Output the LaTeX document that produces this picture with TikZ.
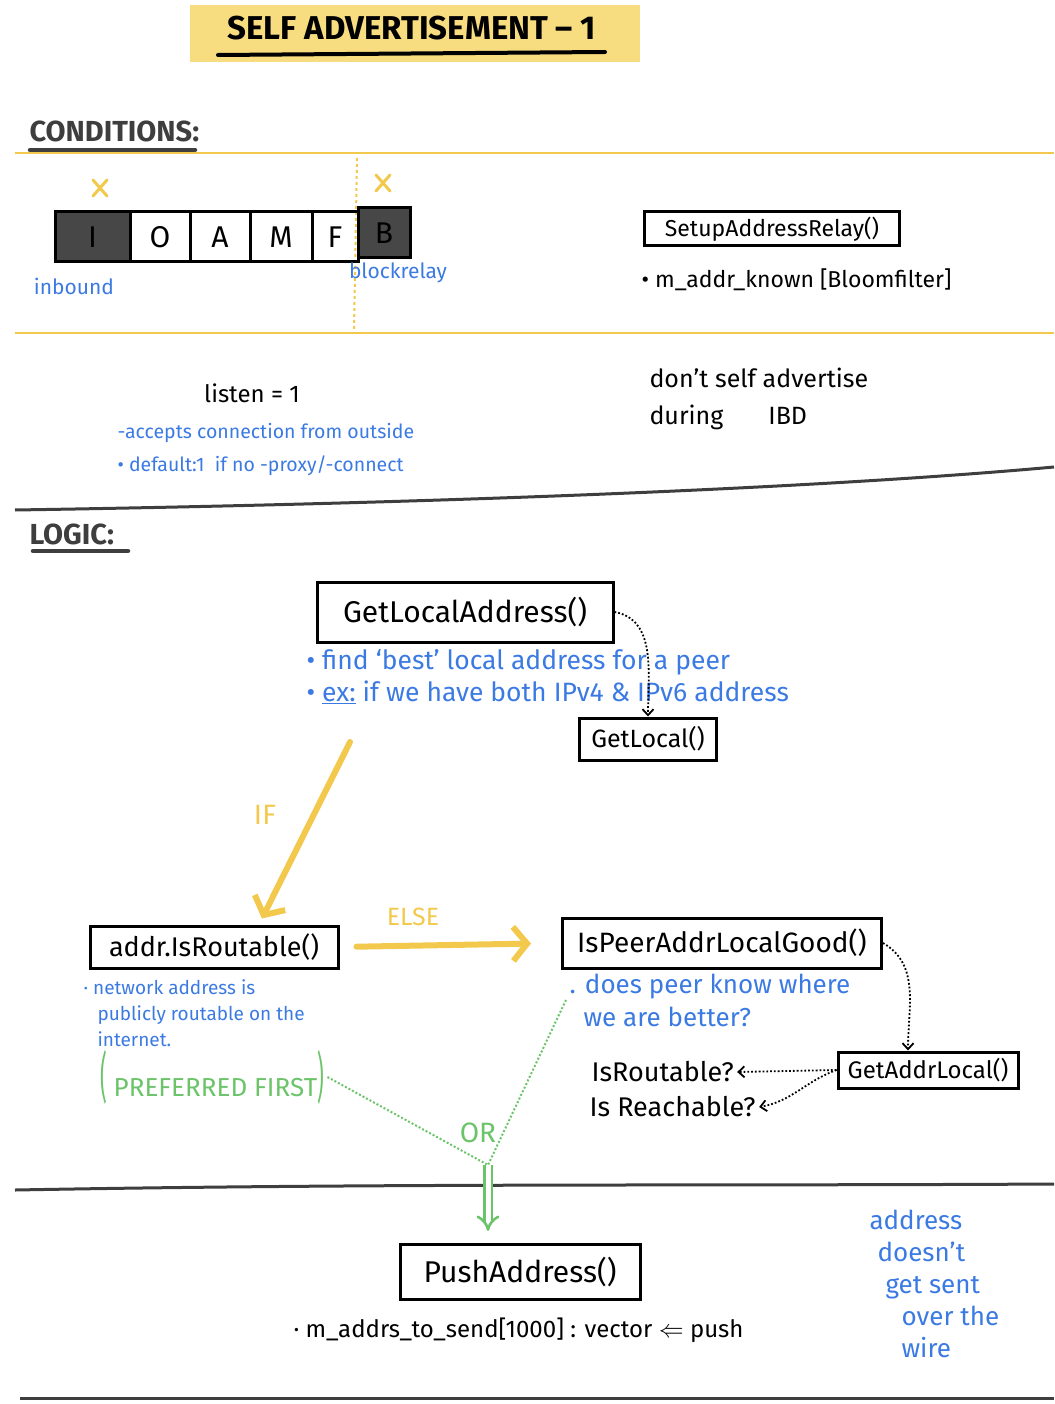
\documentclass[tikz,border=0pt]{standalone}
\usepackage{fontspec}
\usepackage{graphicx}
\setmainfont{Fira Sans}
\usetikzlibrary{arrows.meta}
\definecolor{jaune}{RGB}{242,201,76}
\definecolor{surligne}{RGB}{248,221,128}
\definecolor{bleu}{RGB}{59,122,226}
\definecolor{vert}{RGB}{108,196,106}
\definecolor{ardoise}{RGB}{62,62,62}
\newcommand{\taille}[2]{\fontsize{#1}{#2}\selectfont}
\newcommand{\sepjaune}[1]{\draw[jaune, line width=2.5pt] (15,#1) -- (1054,#1)}
\newcommand{\croix}[2]{\draw[jaune, line width=3pt, line cap=round] (#1,#2) ++(-7,-8) -- ++(14,16) (#1,#2) ++(-7,8) -- ++(14,-16)}
\newcommand{\souligne}[3]{\draw[ardoise, line width=4.5pt, line cap=round] (#1,#3) -- (#2,#3)}
\tikzset{
  epais/.style={line width=3pt},
  cadre/.style={draw, epais, inner sep=2pt},
  cellule/.style={draw, epais, minimum height=50pt, inner sep=0pt, font={\taille{30pt}{30pt}}},
  noir/.style={fill=black!72},
  note/.style={text=bleu, align=left},
  pointille/.style={dotted, line width=1.8pt, -{Straight Barb[length=6pt,width=11pt]}},
  grosse/.style={jaune, line width=6pt, line cap=round, -{Straight Barb[length=14pt,width=34pt]}},
  chemin/.style={vert, dotted, line width=2pt}
}

\begin{document}
\begin{tikzpicture}[x=1pt, y=-1pt]
	\useasboundingbox (0,0) rectangle (1054,1404);
	\fill[surligne] (190,5) rectangle (640,62);
	\node[font={\taille{33pt}{35pt}\bfseries}] (titre) at (412,28) {SELF ADVERTISEMENT -- 1};
	\draw[line width=4pt, line cap=round] (218,55) -- (605,52);
	\node[anchor=west, text=ardoise, font={\taille{29pt}{31pt}\bfseries}] (cond) at (26,131) {CONDITIONS:};
	\souligne{30}{195}{150};
	\sepjaune{153};
	\sepjaune{333};
	\draw[jaune, line width=2pt, dashed] (357,158) -- (354,330);
	\node[cellule, noir, minimum width=75pt] (cI) at (92.5,237) {I};
	\node[cellule, minimum width=60pt] (cO) at (160,237) {O};
	\node[cellule, minimum width=60pt] (cA) at (220,237) {A};
	\node[cellule, minimum width=62pt] (cM) at (281,237) {M};
	\node[cellule, minimum width=46pt] (cF) at (335,237) {F};
	\node[cellule, noir, minimum width=52pt] (cB) at (384,233) {B};
	\croix{100}{188};
	\croix{383}{183};
	\node[note, font={\taille{21pt}{23pt}}] (inbound) at (74,286) {inbound};
	\node[note, font={\taille{21pt}{23pt}}] (blockrelay) at (398,273) {blockrelay};
	\node[cadre, minimum width=255pt, minimum height=34pt, font={\taille{23pt}{25pt}}] (setup) at (772,229) {SetupAddressRelay()};
	\node[anchor=west, font={\taille{23pt}{25pt}}] (known) at (638,280) {• m\_addr\_known [Bloomfilter]};
	\node[font={\taille{24pt}{26pt}}] (listen) at (252,393) {listen = 1};
	\node[note, anchor=north west, font={\taille{19.5pt}{33pt}}] (listennote) at (114,420) {-accepts connection from outside\\• default:1 \ if no -proxy/-connect};
	\node[anchor=north west, align=left, font={\taille{25pt}{37pt}}] (ibd) at (646,364) {don't self advertise\\during\hspace{45pt}IBD};
	\draw[ardoise, line width=3pt] (15,510) .. controls (400,504) and (800,490) .. (1054,467);
	\node[anchor=west, text=ardoise, font={\taille{29pt}{31pt}\bfseries}] (logic) at (26,534) {LOGIC:};
	\souligne{33}{128}{551};
	\node[cadre, minimum width=296pt, minimum height=60pt, font={\taille{30pt}{32pt}}] (gla) at (465,612) {GetLocalAddress()};
	\node[note, anchor=north west, font={\taille{26.5pt}{32pt}}] (glanote) at (303,646) {• find `best' local address for a peer\\• \underline{ex:} if we have both IPv4 \& IPv6 address};
	\node[cadre, minimum width=137pt, minimum height=42pt, font={\taille{25pt}{27pt}}] (gl) at (648,739) {GetLocal()};
	\draw[pointille] (gla.east) to[out=-10, in=90] (gl.north);
	\coordinate (depart) at (350,742);
	\node[cadre, minimum width=248pt, minimum height=42pt, font={\taille{27pt}{29pt}}] (isr) at (214,947) {addr.IsRoutable()};
	\node[cadre, minimum width=319pt, minimum height=50pt, font={\taille{28pt}{30pt}}] (ipalg) at (722,943) {IsPeerAddrLocalGood()};
	\draw[grosse] (depart) -- ([xshift=48pt, yshift=6pt]isr.north);
	\node[text=jaune, font={\taille{28pt}{30pt}}] (si) at (265,815) {IF};
	\draw[grosse, shorten <=17pt, shorten >=30pt] (isr.east) -- (ipalg.west);
	\node[text=jaune, font={\taille{25pt}{27pt}}] (sinon) at (413,917) {ELSE};
	\node[note, anchor=north west, font={\taille{19pt}{26pt}}] (isrnote) at (80,976) {· network address is\\\hspace{14pt}publicly routable on the\\\hspace{14pt}internet.};
	\node[text=vert, font={\taille{26pt}{28pt}}] (pref) at (212,1077) {\scalebox{0.8}[2.1]{(} PREFERRED FIRST\scalebox{0.8}[2.1]{)}};
	\node[note, anchor=north west, font={\taille{26pt}{33pt}}] (ipnote) at (566,970) {. does peer know where\\\hspace{14pt}we are better?};
	\node[anchor=west, font={\taille{27pt}{29pt}}] (ir) at (588,1072) {IsRoutable?};
	\node[anchor=west, font={\taille{27pt}{29pt}}] (irc) at (586,1107) {Is Reachable?};
	\node[cadre, minimum width=180pt, minimum height=36pt, font={\taille{24pt}{26pt}}] (gal) at (928,1070) {GetAddrLocal()};
	\draw[pointille] (ipalg.east) to[out=-30, in=90] ([xshift=-20pt]gal.north);
	\draw[pointille] (gal.west) -- (ir.east);
	\draw[pointille] (gal.west) to[out=200, in=10] (irc.east);
	\coordinate (ou) at (488,1165);
	\draw[chemin] (pref.east) -- (ou);
	\draw[chemin] (ipnote.west) -- (ou);
	\node[text=vert, font={\taille{28pt}{30pt}}] (oulbl) at (478,1133) {OR};
	\draw[ardoise, line width=3pt] (15,1190) .. controls (400,1183) and (700,1186) .. (1054,1184);
	\node[cadre, minimum width=240pt, minimum height=55pt, font={\taille{30pt}{32pt}}] (push) at (520,1272) {PushAddress()};
	\draw[vert, line width=2.6pt, double=white, double distance=5pt, -{Implies}, shorten >=12pt] (ou) -- (ou |- push.north);
	\node[anchor=west, font={\taille{24pt}{26pt}}] (vecteur) at (290,1330) {· m\_addrs\_to\_send[1000] : vector $\Leftarrow$ push};
	\node[note, anchor=north west, font={\taille{26pt}{32pt}}] (fil) at (866,1206) {address\\\hspace{8pt}doesn't\\\hspace{16pt}get sent\\\hspace{32pt}over the\\\hspace{32pt}wire};
	\draw[ardoise, line width=3pt] (20,1398) -- (1054,1398);
\end{tikzpicture}
\end{document}
